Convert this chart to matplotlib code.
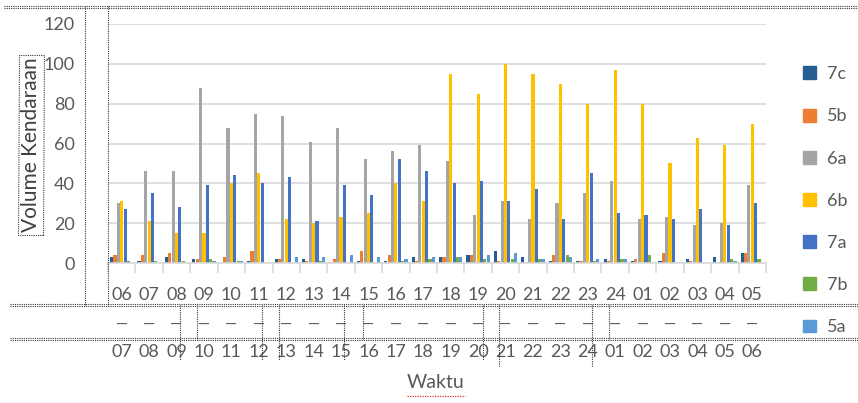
import numpy as np
import matplotlib.pyplot as plt
from matplotlib.lines import Line2D
from matplotlib.patches import Patch
import matplotlib.transforms as mtransforms

plt.rcParams['font.family'] = ['Lato', 'DejaVu Sans']

# hour slots: start hour / end hour
jam_awal = ['06', '07', '08', '09', '10', '11', '12', '13', '14', '15', '16', '17',
            '18', '19', '20', '21', '22', '23', '24', '01', '02', '03', '04', '05']
jam_akhir = ['07', '08', '09', '10', '11', '12', '13', '14', '15', '16', '17', '18',
             '19', '20', '21', '22', '23', '24', '01', '02', '03', '04', '05', '06']

kelompok = ['7c', '5b', '6a', '6b', '7a', '7b', '5a']
v_7c = [3, 1, 3, 2, 0, 1, 2, 2, 0, 1, 1, 3, 3, 4, 6, 3, 1, 1, 2, 1, 1, 2, 3, 5]
v_5b = [4, 4, 5, 2, 3, 6, 2, 1, 2, 6, 4, 1, 3, 4, 1, 0, 4, 1, 1, 2, 5, 1, 0, 5]
v_6a = [30, 46, 46, 88, 68, 75, 74, 61, 68, 52, 56, 59, 51, 24, 31, 22, 30, 35, 41, 22, 23, 19, 20, 39]
v_6b = [31, 21, 15, 15, 40, 45, 22, 20, 23, 25, 40, 31, 95, 85, 100, 95, 90, 80, 97, 80, 50, 63, 59, 70]
v_7a = [27, 35, 28, 39, 44, 40, 43, 21, 39, 34, 52, 46, 40, 41, 31, 37, 22, 45, 25, 24, 22, 27, 19, 30]
v_7b = [1, 1, 1, 2, 1, 0, 0, 1, 0, 0, 1, 2, 3, 2, 2, 2, 4, 1, 2, 4, 0, 0, 2, 2]
v_5a = [0, 0, 0, 1, 1, 0, 3, 3, 4, 3, 2, 3, 3, 4, 5, 2, 3, 2, 2, 0, 0, 0, 1, 0]

nilai = [v_7c, v_5b, v_6a, v_6b, v_7a, v_7b, v_5a]
warna = ['#255E91', '#ED7D31', '#A5A5A5', '#FFC000', '#4472C4', '#70AD47', '#5B9BD5']

W, H = 858, 403
teks = '#595959'
titik = '#3a3a3a'


def fx(x):
    return x / W


def fy(y):
    return 1 - y / H


fig = plt.figure(figsize=(W / 100, H / 100), dpi=100)
ax = fig.add_axes([fx(108), fy(263), fx(766) - fx(108), fy(24) - fy(263)])

x = np.arange(len(jam_awal))
lebar = 0.115
for i, (nama, val, c) in enumerate(zip(kelompok, nilai, warna)):
    ax.bar(x + (i - 3) * 0.123, val, width=lebar, color=c, label=nama, zorder=2)

ax.set_xlim(-0.5, len(jam_awal) - 0.5)
ax.set_ylim(0, 120)
ax.set_yticks(np.arange(0, 121, 20))
ax.yaxis.grid(True, color='#D9D9D9', linewidth=1.2, zorder=0)
ax.tick_params(axis='y', length=0, pad=24, labelsize=13, labelcolor=teks)
for s in ['top', 'right', 'left']:
    ax.spines[s].set_visible(False)
ax.spines['bottom'].set_color('#D9D9D9')
ax.spines['bottom'].set_linewidth(1.2)

# category boundaries as small tick marks, labels drawn separately
ax.set_xticks([])
ax.set_xticks(np.arange(-0.5, len(jam_awal)), minor=True)
ax.tick_params(axis='x', which='minor', length=7, color='#D9D9D9', width=1.2, labelbottom=False)

# three-row hour labels
tr = mtransforms.blended_transform_factory(ax.transData, fig.transFigure)
for xi, a, b in zip(x, jam_awal, jam_akhir):
    ax.text(xi, fy(295), a, transform=tr, ha='center', va='center', fontsize=13, color=teks)
    ax.text(xi, fy(325), '—', transform=tr, ha='center', va='center', fontsize=11, color=teks)
    ax.text(xi, fy(352), b, transform=tr, ha='center', va='center', fontsize=13, color=teks)

fig.text(fx(31), fy(145), 'Volume Kendaraan', rotation=90, ha='center', va='center',
         fontsize=15, color='#404040',
         bbox=dict(boxstyle='square,pad=0.12', fc='none', ec=titik, ls=(0, (1, 1)), lw=0.8))
fig.text(fx(436), fy(383), 'Waktu', ha='center', va='center', fontsize=14, color=teks)
fig.add_artist(Line2D([fx(407), fx(465)], [fy(396), fy(396)], color='#E03030',
                      lw=0.9, ls=(0, (1, 1))))

handles = [Patch(color=c) for c in warna]
ax.legend(handles, kelompok, loc='upper left', bbox_to_anchor=(fx(796), fy(59)),
          bbox_transform=fig.transFigure, frameon=False, fontsize=13,
          handlelength=0.72, handleheight=0.72, handletextpad=0.6,
          labelspacing=1.45, labelcolor=teks, borderaxespad=0)


# dotted selection outlines around the chart parts
def garis(xs, ys, lw=0.8):
    fig.add_artist(Line2D([fx(v) for v in xs], [fy(v) for v in ys], color=titik,
                          lw=lw, ls=(0, (1, 1))))


def garis_tebal(x0, x1, y):
    garis([x0, x1], [y - 1, y - 1])
    garis([x0, x1], [y + 1, y + 1])


garis_tebal(4, 858, 7)
garis([85, 85], [6, 305])
garis([108, 108], [6, 305])
garis_tebal(10, 858, 305)
garis_tebal(10, 858, 339)
for xa, ya in [(180, 360), (197, 339), (262, 360), (279, 360), (344, 360),
               (363, 339), (483, 360), (499, 367), (592, 367), (609, 339)]:
    garis([xa, xa], [305, ya])

fig.savefig('out.png', dpi=100)
